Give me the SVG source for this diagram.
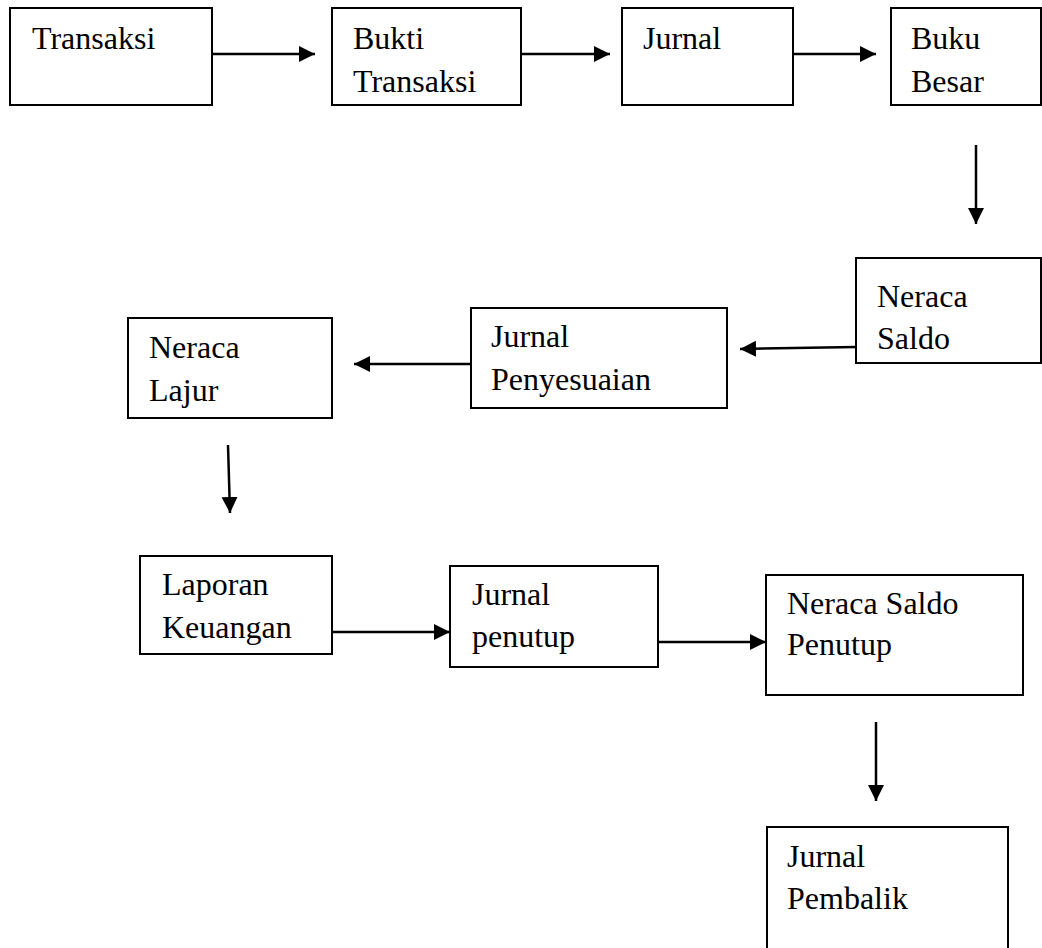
<svg xmlns="http://www.w3.org/2000/svg" width="1042" height="948" viewBox="0 0 1042 948">
  <style>
    .box { fill: #ffffff; stroke: #000000; stroke-width: 2; }
    .lbl { font-family: "Liberation Serif", "Times New Roman", serif; font-size: 32px; fill: #000000; }
    .conn { stroke: #000000; stroke-width: 2.5; fill: none; marker-end: url(#arrow); }
  </style>
  <defs>
    <marker id="arrow" markerUnits="userSpaceOnUse" markerWidth="18" markerHeight="18" refX="16" refY="8" orient="auto">
      <path d="M0,0 L16,8 L0,16 Z" fill="#000000"/>
    </marker>
  </defs>
  <rect width="1042" height="948" fill="#ffffff"/>

  <g id="connectors">
    <line class="conn" x1="212" y1="54" x2="315" y2="54"/>
    <line class="conn" x1="521" y1="54" x2="610" y2="54"/>
    <line class="conn" x1="793" y1="54" x2="876" y2="54"/>
    <line class="conn" x1="976" y1="145" x2="976" y2="224"/>
    <line class="conn" x1="856" y1="347" x2="740" y2="349"/>
    <line class="conn" x1="471" y1="364" x2="354" y2="364"/>
    <line class="conn" x1="228" y1="445" x2="230" y2="513"/>
    <line class="conn" x1="332" y1="632" x2="450" y2="632"/>
    <line class="conn" x1="658" y1="642" x2="766" y2="642"/>
    <line class="conn" x1="876" y1="722" x2="876" y2="801"/>
  </g>

  <g id="transaksi">
    <rect class="box" x="10" y="8" width="202" height="97"/>
    <text class="lbl" x="32" y="49">Transaksi</text>
  </g>
  <g id="bukti-transaksi">
    <rect class="box" x="332" y="8" width="189" height="97"/>
    <text class="lbl" x="353" y="49">Bukti</text>
    <text class="lbl" x="353" y="92">Transaksi</text>
  </g>
  <g id="jurnal">
    <rect class="box" x="622" y="8" width="171" height="97"/>
    <text class="lbl" x="643" y="49">Jurnal</text>
  </g>
  <g id="buku-besar">
    <rect class="box" x="891" y="8" width="150" height="97"/>
    <text class="lbl" x="911" y="49">Buku</text>
    <text class="lbl" x="911" y="92">Besar</text>
  </g>
  <g id="neraca-saldo">
    <rect class="box" x="856" y="258" width="185" height="105"/>
    <text class="lbl" x="877" y="307">Neraca</text>
    <text class="lbl" x="877" y="349">Saldo</text>
  </g>
  <g id="jurnal-penyesuaian">
    <rect class="box" x="471" y="308" width="256" height="100"/>
    <text class="lbl" x="491" y="347">Jurnal</text>
    <text class="lbl" x="491" y="390">Penyesuaian</text>
  </g>
  <g id="neraca-lajur">
    <rect class="box" x="128" y="318" width="204" height="100"/>
    <text class="lbl" x="149" y="358">Neraca</text>
    <text class="lbl" x="149" y="401">Lajur</text>
  </g>
  <g id="laporan-keuangan">
    <rect class="box" x="140" y="556" width="192" height="98"/>
    <text class="lbl" x="162" y="595">Laporan</text>
    <text class="lbl" x="162" y="638">Keuangan</text>
  </g>
  <g id="jurnal-penutup">
    <rect class="box" x="450" y="566" width="208" height="101"/>
    <text class="lbl" x="472" y="605">Jurnal</text>
    <text class="lbl" x="472" y="647">penutup</text>
  </g>
  <g id="neraca-saldo-penutup">
    <rect class="box" x="766" y="575" width="257" height="120"/>
    <text class="lbl" x="787" y="614">Neraca Saldo</text>
    <text class="lbl" x="787" y="655">Penutup</text>
  </g>
  <g id="jurnal-pembalik">
    <rect class="box" x="767" y="827" width="241" height="140"/>
    <text class="lbl" x="787" y="867">Jurnal</text>
    <text class="lbl" x="787" y="909">Pembalik</text>
  </g>
</svg>
